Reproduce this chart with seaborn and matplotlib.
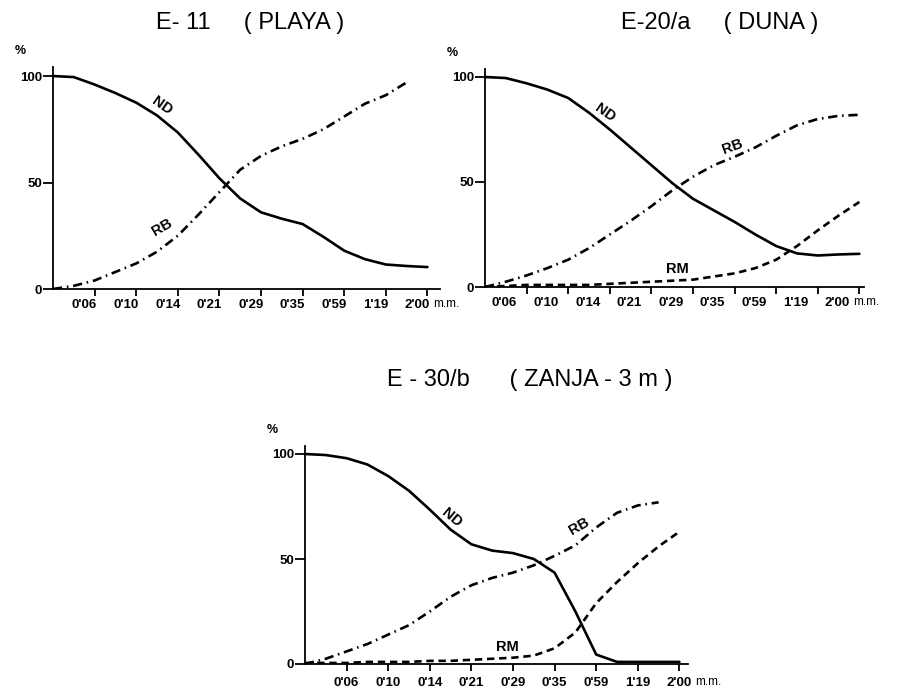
import numpy as np
import pandas as pd
import matplotlib
matplotlib.use("Agg")
import matplotlib.pyplot as plt
import matplotlib.transforms as mtransforms
import seaborn as sns

# eje x: posiciones de los tiempos (medios pasos para leer las curvas)
tiempos = ["0'06", "0'10", "0'14", "0'21", "0'29", "0'35", "0'59", "1'19", "2'00"]
pos = np.arange(0, 9.5, 0.5)
nan = np.nan

# E-11 (PLAYA)
e11_nd = [100, 99.5, 96, 92, 87.5, 81.5, 73.5, 63, 52, 42.5, 36, 33, 30.5, 24.5, 18, 14, 11.5, 10.8, 10.3]
e11_rb = [0, 1.5, 4, 8, 12, 17.5, 25, 35, 45.5, 56, 62.5, 67, 70.5, 75, 81, 87, 91, 97, nan]

# E-20/a (DUNA)
e20_nd = [100, 99.5, 97, 94, 90, 83, 75, 66.5, 58, 49.5, 42, 36.5, 31, 25, 19.5, 16, 15, 15.5, 15.8]
e20_rb = [0, 2.5, 5.5, 9, 13, 18.5, 25, 31.5, 38.5, 46, 52.5, 58, 62, 66.5, 72, 77, 80, 81.5, 82]
e20_rm = [0, 0.5, 1, 1, 1, 1, 1.5, 2, 2.5, 3, 3.5, 5, 6.5, 9, 13, 19.5, 27, 34, 40.5]

# E-30/b (ZANJA-3m)
e30_nd = [100, 99.5, 98, 95, 89.5, 82.5, 73.5, 64, 57, 54, 52.8, 50, 43.5, 25, 4.5, 1, 1, 1, 1]
e30_rb = [0, 2.5, 6, 9.5, 14, 18.5, 25, 32, 37.5, 41, 43.5, 47, 51.5, 56.5, 65, 72, 75.5, 77, nan]
e30_rm = [0.5, 0.5, 0.5, 1, 1, 1, 1.5, 1.5, 2, 2.5, 3, 4, 7.5, 15, 29, 39, 48, 56, 63]

W, H = 919, 689

sns.set_theme(style="ticks")
plt.rcParams['font.family'] = ['Liberation Sans', 'DejaVu Sans']
plt.rcParams['text.color'] = 'black'
plt.rcParams['lines.solid_joinstyle'] = 'round'

fig = plt.figure(figsize=(W / 100, H / 100), dpi=100)

estilos = {"ND": "", "RB": (3.5, 1.8, 0.6, 1.8), "RM": (2.8, 1.8)}


def px(x0, y0, x1, y1):
    # rectangulo en pixeles -> fraccion de figura
    return [x0 / W, 1 - y1 / H, (x1 - x0) / W, (y1 - y0) / H]


def panel(rect, xmax, series, titulo, tit_xy, etiquetas, shift, pad):
    ax = fig.add_axes(rect)
    filas = []
    for nombre, vals in series.items():
        for p, v in zip(pos, vals):
            filas.append({"t": p, "pct": v, "serie": nombre})
    df = pd.DataFrame(filas).dropna()
    sns.lineplot(data=df, x="t", y="pct", style="serie", dashes=estilos,
                 color="black", linewidth=1.9, legend=False, ax=ax)
    ax.set_xlim(0, xmax)
    ax.set_ylim(0, 104)
    ax.set_xticks(range(1, 10))
    ax.set_xticklabels(tiempos, fontsize=9.5, fontweight="bold", color="black")
    ax.set_yticks([0, 50, 100])
    ax.set_yticklabels(["0", "50", "100"], fontsize=9.5, fontweight="bold", color="black")
    ax.tick_params(axis="x", length=5, width=1.3, pad=pad, colors="black")
    ax.tick_params(axis="y", length=7, width=1.3, pad=1, colors="black")
    for lab in ax.get_xticklabels():
        lab.set_transform(lab.get_transform() +
                          mtransforms.ScaledTranslation(shift / 100, 0, fig.dpi_scale_trans))
    for s in ["top", "right"]:
        ax.spines[s].set_visible(False)
    for s in ["left", "bottom"]:
        ax.spines[s].set_linewidth(1.3)
        ax.spines[s].set_color("black")
    ax.set_xlabel("")
    ax.set_ylabel("")
    # unidades despues del ultimo tiempo
    ax.annotate("m.m.", xy=(9, 0), xycoords="data",
                xytext=((shift + 16) * 0.72, -(pad + 5) - 4), textcoords="offset points",
                ha="left", va="center", fontsize=8.5, color="black")
    ax.annotate("%", xy=(0, 1), xycoords="axes fraction",
                xytext=(-38 * 0.72, 16 * 0.72), textcoords="offset points",
                ha="left", va="center", fontsize=9, fontweight="bold", color="black")
    for texto, x, y, rot in etiquetas:
        ax.text(x, y, texto, rotation=rot, ha="center", va="center",
                fontsize=10.5, fontweight="bold", rotation_mode="anchor", color="black")
    fig.text(tit_xy[0] / W, 1 - tit_xy[1] / H, titulo, ha="center", va="center",
             fontsize=17, color="black")
    return ax


panel(px(53, 67.5, 53 + 9.3 * 41.6, 289), 9.3,
      {"ND": e11_nd, "RB": e11_rb},
      "E- 11     ( PLAYA )", (250, 23),
      [("ND", 2.62, 86, -35), ("RB", 2.62, 29, 30)], -10, 2)

panel(px(485, 68.6, 485 + 9.1 * 41.6, 287), 9.1,
      {"ND": e20_nd, "RB": e20_rb, "RM": e20_rm},
      "E-20/a     ( DUNA )", (720, 23),
      [("ND", 2.88, 83, -35), ("RB", 5.96, 66.7, 20), ("RM", 4.62, 8.6, 0)], -22, 2)

panel(px(305, 445.6, 305 + 9.2 * 41.6, 664), 9.2,
      {"ND": e30_nd, "RB": e30_rb, "RM": e30_rm},
      "E - 30/b      ( ZANJA - 3 m )", (530, 380),
      [("ND", 3.53, 69.5, -40), ("RB", 6.59, 65.7, 30), ("RM", 4.86, 8.1, 0)], 0, 4)

fig.savefig("out.png", dpi=100)
